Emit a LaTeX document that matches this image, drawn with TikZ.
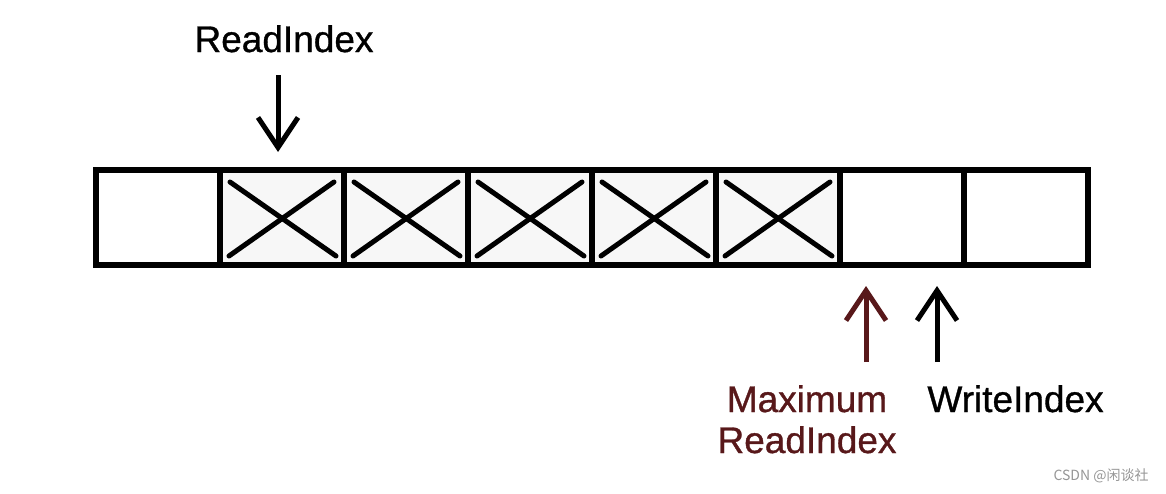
\documentclass[tikz,border=0pt]{standalone}
\usepackage{fontspec}
\setmainfont{Liberation Sans}[AutoFakeBold=0.9]
\newfontfamily\cjk{Noto Sans CJK SC}
\usetikzlibrary{arrows.meta}
\definecolor{maroon}{RGB}{88,24,26}
\definecolor{wmgray}{RGB}{150,150,150}
\tikzset{
  cell/.style={draw=black, line width=6pt, minimum width=124pt, minimum height=95pt, inner sep=0pt, outer sep=0pt},
  xcell/.style={cell, fill=black!3},
  cross/.style={line width=5pt, line cap=round},
  ptr/.style={line width=5pt, -{Straight Barb[length=30pt,width=40pt]}},
  lbl/.style={font=\fontsize{37}{41}\selectfont\bfseries, inner sep=0pt, outer sep=0pt},
}
\begin{document}
\begin{tikzpicture}[x=1pt,y=-1pt]
\useasboundingbox (0,0) rectangle (1166,493);
\fill[white] (0,0) rectangle (1166,493);
% cells
\node[cell]  (c1) at (158,217.5) {};
\node[xcell] (c2) at (282,217.5) {};
\node[xcell] (c3) at (406,217.5) {};
\node[xcell] (c4) at (530,217.5) {};
\node[xcell] (c5) at (654,217.5) {};
\node[xcell] (c6) at (778,217.5) {};
\node[cell]  (c7) at (902,217.5) {};
\node[cell]  (c8) at (1026,217.5) {};
\draw[line width=6pt] (c1.north west) rectangle (c8.south east);
% crosses
\foreach \c in {c2,c3,c4,c5,c6}{
  \draw[cross] ([shift={(10pt,-12pt)}]\c.north west) -- ([shift={(-8pt,9pt)}]\c.south east);
  \draw[cross] ([shift={(-10pt,-12pt)}]\c.north east) -- ([shift={(9pt,9pt)}]\c.south west);
}
% labels
\node[lbl, anchor=base] (ri) at (284,52) {ReadIndex};
\node[lbl, anchor=base] (wi) at (1015.5,412) {WriteIndex};
\node[lbl, text=maroon, align=center, anchor=base] (mri) at (807,453) {Maximum\\ReadIndex};
% pointer coordinates
\coordinate (riTop) at (278,75);
\coordinate (riTip) at (278,152);
\coordinate (mTail) at (866,362);
\coordinate (mTip) at (866,286);
\coordinate (wTail) at (937,362);
\coordinate (wTip) at (937,286);
\draw[ptr] (riTop) -- (riTip);
\draw[ptr, draw=maroon] (mTail) -- (mTip);
\draw[ptr] (wTail) -- (wTip);
% watermark
\node[font=\cjk\fontsize{14}{16}\selectfont, text=wmgray, anchor=base] (wm) at (1101,480) {CSDN @闲谈社};
\end{tikzpicture}
\end{document}
